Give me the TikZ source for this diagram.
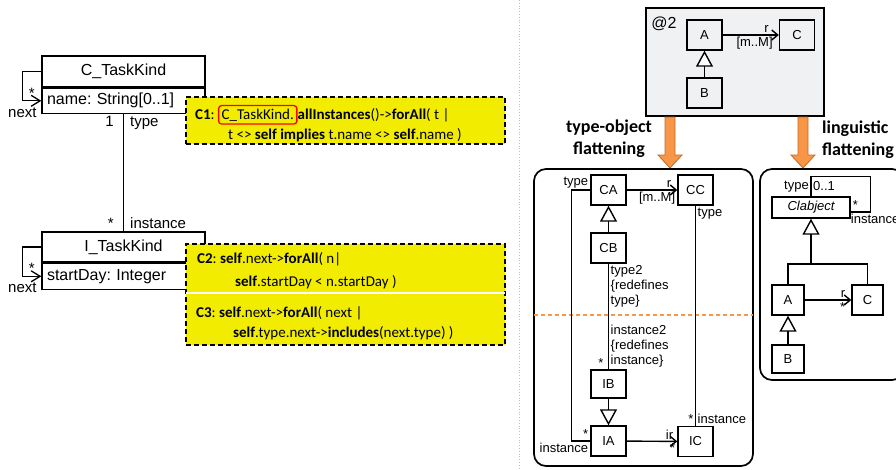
\documentclass[tikz,border=0pt]{standalone}
\usepackage{fontspec}
\setmainfont{Liberation Sans}
\newfontfamily\oclfont{Carlito}
\usetikzlibrary{positioning, calc, arrows.meta}
\frenchspacing

\definecolor{oclyellow}{RGB}{242,236,0}
\definecolor{flatorange}{RGB}{247,150,70}
\definecolor{flatorangedark}{RGB}{196,104,40}
\definecolor{levelgray}{RGB}{240,241,243}

\tikzset{
	umlhead/.style={draw, line width=1.3pt, minimum width=163pt, minimum height=31pt, font=\fontsize{16}{19}\selectfont},
	umlattr/.style={draw, line width=1.3pt, text width=153pt, inner xsep=5pt, minimum height=25pt, align=left, font=\fontsize{16}{19}\selectfont},
	biglbl/.style={font=\fontsize{15}{18}\selectfont, inner sep=2pt},
	lbl/.style={font=\fontsize{13}{15}\selectfont, inner sep=1.5pt},
	sbox/.style={draw, line width=1.4pt, minimum width=35pt, minimum height=30pt, font=\fontsize{13}{15}\selectfont},
	link/.style={line width=1.4pt},
	assoc/.style={line width=1.4pt, -{Straight Barb[length=6pt, width=10pt]}},
	bigassoc/.style={line width=1.3pt, -{Straight Barb[length=9pt, width=11pt]}},
	inherit/.style={line width=1.4pt, -{Triangle[length=16pt, width=17pt, fill=white]}},
	oclbox/.style={draw, fill=oclyellow, line width=1.4pt, dash pattern=on 5pt off 3pt, minimum width=319pt},
	ocl/.style={font=\oclfont\fontsize{15}{18}\selectfont, anchor=base west, inner sep=0pt},
	redframe/.style={draw=red, rounded corners=3pt, line width=1.3pt, inner sep=3pt},
	flatbox/.style={draw, line width=1.7pt, rounded corners=12pt},
	flatarrow/.style={draw=flatorangedark, fill=flatorange, line width=0.8pt},
	flattitle/.style={font=\oclfont\bfseries\fontsize{18}{22}\selectfont, inner sep=0pt}
}

\begin{document}
\begin{tikzpicture}[x=1pt, y=-1pt]
	\useasboundingbox (0,0) rectangle (896,469);
	\clip (0,0) rectangle (896,469);

	\node[umlhead] (ck) at (123.5,71.5) {C\_TaskKind};
	\node[umlattr, below=0pt of ck] (cka) {name: String[0..1]};
	\draw[bigassoc] (ck.west) -- ++(-19,0) |- node[biglbl, pos=0.5, below=4pt]{next} node[biglbl, pos=0.75, above]{*} (cka.west);

	\node[umlhead, minimum height=30pt] (ik) at (123.5,247) {I\_TaskKind};
	\node[umlattr, minimum height=26pt, below=0pt of ik] (ika) {startDay: Integer};
	\draw[bigassoc] (ik.west) -- ++(-19,0) |- node[biglbl, pos=0.5, below=4pt]{next} node[biglbl, pos=0.75, above]{*} (ika.west);

	\draw[link] (cka.south) -- (ik.north)
		node[biglbl, at start, below left, xshift=-7pt]{1}
		node[biglbl, at start, below right, xshift=4pt]{type}
		node[biglbl, at end, above left, xshift=-7pt]{*}
		node[biglbl, at end, above right, xshift=4pt]{instance};

	\node[oclbox, minimum height=47pt] (c1) at (345.5,120.5) {};
	\node[ocl] (c1name) at (195,119) {\textbf{C1}:};
	\node[ocl, redframe] (c1cls) at ($(c1name.base east)+(3,0)$) {C\_TaskKind.};
	\node[ocl] (c1rest) at (c1cls.base east) {\textbf{allInstances}()->\textbf{forAll}( t |};
	\node[ocl] (c1l2) at (228,139) {t <> \textbf{self implies} t.name <> \textbf{self}.name )};

	\node[oclbox, minimum height=101pt] (c23) at (345.5,294.5) {};
	\draw[white, line width=1.5pt] ($(c23.west)+(1,-1.5)$) -- ($(c23.east)+(-1,-1.5)$);
	\node[ocl] (c2l1) at (197,263) {\textbf{C2}: \textbf{self}.next->\textbf{forAll}( n|};
	\node[ocl] (c2l2) at (235,286) {\textbf{self}.startDay < n.startDay )};
	\node[ocl] (c3l1) at (196,317) {\textbf{C3}: \textbf{self}.next->\textbf{forAll}( next |};
	\node[ocl] (c3l2) at (233,337) {\textbf{self}.type.next->\textbf{includes}(next.type) )};

	\draw[gray!50, dotted, line width=0.8pt] (519,0) -- (519,469);

	\node[draw, fill=levelgray, line width=1.6pt, minimum width=178pt, minimum height=108pt] (lvl) at (735,62) {};
	\node[font=\fontsize{16}{19}\selectfont, anchor=north west, inner sep=0pt] (lvlname) at ($(lvl.north west)+(6,9.5)$) {@2};
	\node[sbox] (pa) at (704.5,35) {A};
	\node[sbox] (pc) at (797,35) {C};
	\node[sbox] (pb) at (704.5,93) {B};
	\draw[assoc] (pa) -- (pc)
		node[lbl, at end, above left, xshift=-8pt]{r}
		node[lbl, at end, below left, xshift=-4pt]{[m..M]};
	\draw[inherit] (pb) -- (pa);

	\foreach \ax in {670,803}
	\draw[flatarrow] (\ax-5,117) -- (\ax+5,117) -- (\ax+5,155) -- (\ax+12,155) -- (\ax,168) -- (\ax-12,155) -- (\ax-5,155) -- cycle;
	\node[flattitle, align=center] (totitle) at (609,139) {type-object\\flattening};
	\node[flattitle, align=left, anchor=west] (lgtitle) at (822,140) {linguistic\\flattening};

	\node[flatbox, minimum width=219pt, minimum height=297pt] (tobox) at (643.5,317.5) {};
	\draw[flatorange, dash pattern=on 4pt off 3pt, line width=1.4pt] ($(tobox.west |- 0,315)+(1,0)$) -- ($(tobox.east |- 0,315)+(-1,0)$);
	\node[sbox] (ca) at (608.5,190) {CA};
	\node[sbox] (cc) at (695.5,190) {CC};
	\node[sbox] (cb) at (608.5,248) {CB};
	\node[sbox, minimum height=28pt] (ib) at (608.5,384) {IB};
	\node[sbox] (ia) at (608.5,441) {IA};
	\node[sbox] (ic) at (695.5,441.5) {IC};
	\draw[assoc] (ca) -- (cc)
		node[lbl, at end, above left, xshift=-4pt]{r}
		node[lbl, at end, below left]{[m..M]};
	\draw[inherit] (cb) -- (ca);
	\draw[link] (cb) -- (ib)
		node[lbl, at start, below right, align=left]{type2\\\{redefines\\type\}}
		node[lbl, at end, above right, align=left]{instance2\\\{redefines\\instance\}}
		node[lbl, at end, above left, xshift=-3pt]{*};
	\draw[inherit] (ib) -- (ia);
	\draw[assoc] (ia) -- (ic)
		node[lbl, at end, above left, xshift=-2pt]{ir}
		node[lbl, at end, below left]{*};
	\draw[link] (ca.west) node[lbl, above left]{type} -- ++(-19,0) |- (ia.west)
		node[lbl, below left]{instance}
		node[lbl, above left]{*};
	\draw[link] (cc) -- (ic)
		node[lbl, at start, below right]{type}
		node[lbl, at end, above right]{instance}
		node[lbl, at end, above left]{*};

	\node[flatbox, minimum width=144pt, minimum height=211pt] (lgbox) at (832,274.5) {};
	\node[sbox, minimum width=78pt, minimum height=21pt, font={\fontsize{13}{15}\selectfont\itshape}] (clab) at (811,207.5) {Clabject};
	\draw[link] (clab.north) -- node[lbl, left]{type} node[lbl, right]{0..1} ++(0,-20) -| ($(clab.east)+(20,4.5)$) -- ($(clab.east)+(0,4.5)$)
		node[lbl, above right]{*}
		node[lbl, below right, xshift=-2pt]{instance};
	\node[sbox, minimum width=32pt] (la) at (788,300) {A};
	\node[sbox, minimum width=31pt] (lc) at (867.5,300) {C};
	\node[sbox, minimum width=32pt, minimum height=28pt] (lb) at (788,359) {B};
	\coordinate (fork) at (811,264);
	\draw[link] (la.north) |- (fork) -| (lc.north);
	\draw[inherit] (fork) -- (clab.south);
	\draw[assoc] (la) -- (lc)
		node[lbl, at end, above left, xshift=-4pt]{r}
		node[lbl, at end, below left, xshift=-4pt]{*};
	\draw[inherit] (lb) -- (la);
\end{tikzpicture}
\end{document}
